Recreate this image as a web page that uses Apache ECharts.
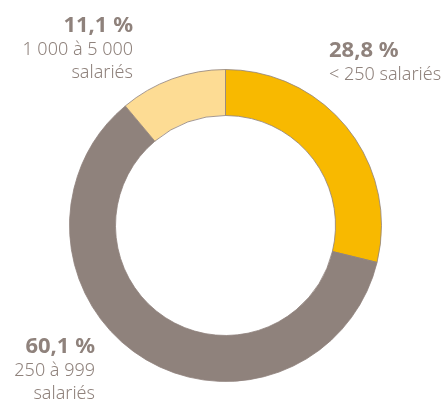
<!DOCTYPE html>
<html>
<head>
<meta charset="utf-8">
<script src="https://cdn.jsdelivr.net/npm/echarts@6/dist/echarts.min.js"></script>
<style>
  html, body { margin: 0; padding: 0; background: #fff; }
  #chart { width: 446px; height: 401px; }
</style>
</head>
<body>
<div id="chart"></div>
<script>
    // parts des effectifs par taille d'entreprise
    var categories = ['< 250 salariés', '250 à 999 salariés', '1 000 à 5 000 salariés']
    var values = [28.8, 60.1, 11.1]
    var pctLabels = ['28,8 %', '60,1 %', '11,1 %']
    var subLabels = [['< 250 salariés'], ['250 à 999', 'salariés'], ['1 000 à 5 000', 'salariés']]
    var colors = ['#f8b900', '#8f827c', '#fddc94']

    var textColor = '#8f827c'
    var font = '"Noto Sans", "Open Sans", sans-serif'

    // emplacement des étiquettes (coin d'ancrage, alignement)
    var labelPos = [
        {x: 329, y: 51, align: 'left'},
        {x: 95, y: 347, align: 'right'},
        {x: 133, y: 26, align: 'right'}
    ]

    var graphics = []
    labelPos.forEach((p, i) => {
        graphics.push({
            type: 'text', x: p.x, y: p.y,
            style: {
                text: pctLabels[i], fill: textColor, font: 'bold 22px ' + font,
                textAlign: p.align, textVerticalAlign: 'middle'
            }
        })
        subLabels[i].forEach((line, j) => {
            graphics.push({
                type: 'text', x: p.x, y: p.y + 24 + j * 23,
                style: {
                    text: line, fill: textColor, font: '300 18px ' + font,
                    textAlign: p.align, textVerticalAlign: 'middle'
                }
            })
        })
    })

    var myChart = echarts.init(document.getElementById('chart'))
    var option = {
        animation: false,
        graphic: graphics,
        series: [{
            type: 'pie',
            center: [225.5, 225.5],
            radius: [110, 156],
            startAngle: 90,
            clockwise: true,
            label: {show: false},
            labelLine: {show: false},
            emphasis: {disabled: true},
            itemStyle: {borderColor: '#8f827c', borderWidth: 0.8},
            data: categories.map((c, i) => ({
                name: c, value: values[i], itemStyle: {color: colors[i]}
            }))
        }]
    }
    myChart.setOption(option)
</script>
</body>
</html>
